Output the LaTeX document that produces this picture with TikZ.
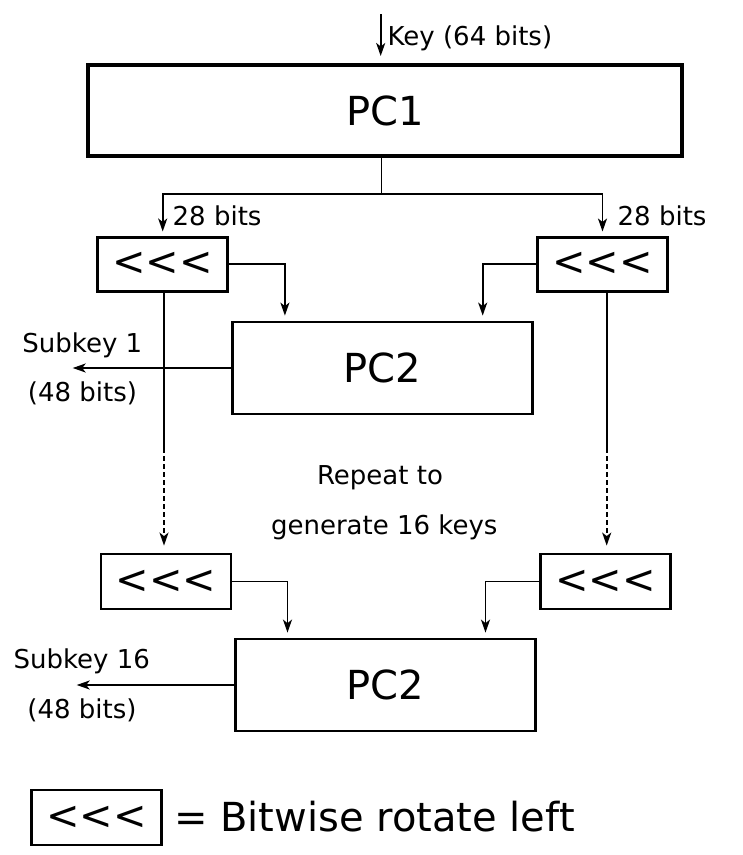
\documentclass[tikz,border=0pt]{standalone}
\usepackage{fontspec}
\setmainfont{DejaVu Sans}
\usetikzlibrary{arrows.meta,calc}
\newcommand{\rotl}{<{}<{}<}
\begin{document}
\begin{tikzpicture}[x=1pt,y=-1pt,
  tip/.style={-{Stealth[length=13pt,width=9pt,inset=3.5pt]}},
  conn/.style={line width=1.8pt, tip},
  plain/.style={line width=1.8pt},
  bigbox/.style={draw, line width=2.8pt, inner sep=0pt, minimum width=300pt, minimum height=92pt, font=\fontsize{40}{48}\selectfont},
  rotbox/.style={draw, line width=2.8pt, minimum width=130pt, minimum height=54pt, inner sep=0pt, font=\fontsize{40}{48}\selectfont},
  lbl/.style={font=\fontsize{26}{31}\selectfont, inner sep=0pt},
  dots/.style={line width=1.8pt, dash pattern=on 5pt off 3pt},
]
\useasboundingbox (0,0) rectangle (743,855);

% PC1 and key input
\node[bigbox, line width=3.6pt, minimum width=594pt, minimum height=91pt] (pc1) at (385,110.5) {PC1};
\coordinate (keytop) at (380.7,14);
\coordinate (keyend) at (380.7,56);
\draw[conn] (keytop) -- (keyend);
\node[lbl, anchor=base west] (keylbl) at (387.5,45.7) {Key (64 bits)};

% first rotate boxes
\node[rotbox] (L1) at (162.7,264.2) {\rotl};
\node[rotbox] (R1) at (602.5,264.2) {\rotl};

% split
\coordinate (split) at (381.5,194);
\draw[plain] (pc1.south -| split) -- (split);
\draw[conn, shorten >=4.3pt] (split) -| (L1.north);
\draw[conn, shorten >=4.3pt] (split) -| (R1.north);
\node[lbl, anchor=base west] (b28l) at (172.5,225.7) {28 bits};
\node[lbl, anchor=base west] (b28r) at (617.5,225.7) {28 bits};

% first PC2
\node[bigbox] (PC2a) at (382.3,368) {PC2};
\draw[conn, shorten >=5pt] (L1.east) -| ($(PC2a.north west)+(54,0)$);
\draw[conn, shorten >=5pt] (R1.west) -| ($(PC2a.north east)+(-51,0)$);
\coordinate (sk1) at (72.7,368);
\draw[conn] (PC2a.west) -- (sk1);
\node[lbl, anchor=base] (sk1a) at (82.3,352.3) {Subkey 1};
\node[lbl, anchor=base] (sk1b) at (82.5,401.7) {(48 bits)};

% second rotate boxes
\node[rotbox, minimum height=55pt] (L2) at (166,581.5) {\rotl};
\node[rotbox, minimum height=55pt] (R2) at (605.5,581.5) {\rotl};

% vertical continuation lines
\coordinate (lmid) at (164,448.3);
\coordinate (rmid) at (606.7,448.3);
\draw[plain] (L1.south -| lmid) -- (lmid);
\draw[plain] (R1.south -| rmid) -- (rmid);
\draw[dots, tip, shorten >=7pt] (lmid) -- (L2.north -| lmid);
\draw[dots, tip, shorten >=7pt] (rmid) -- (R2.north -| rmid);

\node[lbl, anchor=base] (rep1) at (380,484.3) {Repeat to};
\node[lbl, anchor=base] (rep2) at (384.3,534.3) {generate 16 keys};

% second PC2
\node[bigbox] (PC2b) at (385.5,685) {PC2};
\draw[conn, shorten >=5pt] (L2.east) -| ($(PC2b.north west)+(53.4,0)$);
\draw[conn, shorten >=5pt] (R2.west) -| ($(PC2b.north east)+(-51.4,0)$);
\coordinate (sk16) at (76.7,685);
\draw[conn] (PC2b.west) -- (sk16);
\node[lbl, anchor=base] (sk16a) at (81.7,668.3) {Subkey 16};
\node[lbl, anchor=base] (sk16b) at (82,718.3) {(48 bits)};

% legend
\node[rotbox, minimum height=55pt] (leg) at (96.5,817.5) {\rotl};
\node[inner sep=0pt, anchor=base west, font=\fontsize{40}{48}\selectfont] (legtxt) at (174,831) {= Bitwise rotate left};
\end{tikzpicture}
\end{document}
